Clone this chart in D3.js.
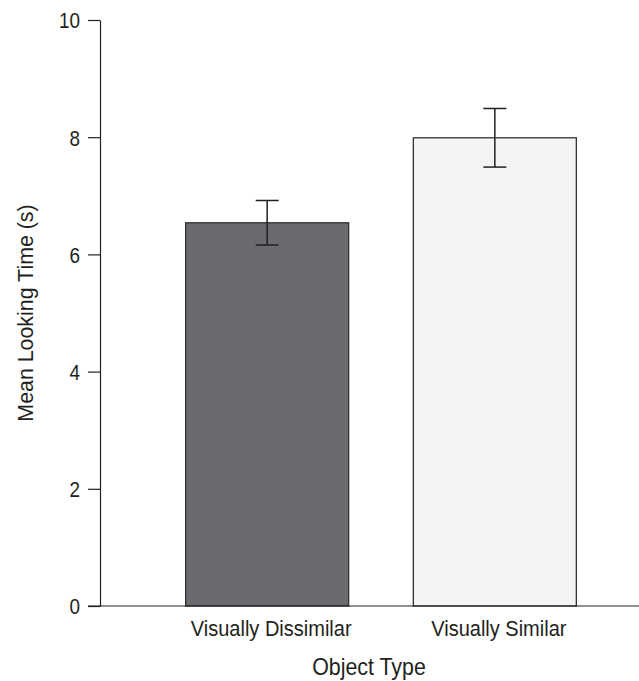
<!DOCTYPE html>
<html>
<head>
<meta charset="utf-8">
<script src="https://cdn.jsdelivr.net/npm/d3@7"></script>
<style>
  body { margin: 0; background: #fff; }
  text { font-family: "Liberation Sans", Arial, sans-serif; fill: #231f20; }
</style>
</head>
<body>
<div id="chart"></div>
<script>

// chart data

const categories = ["Visually Dissimilar", "Visually Similar"];
const means = [6.54, 7.99];
const errLow = [6.16, 7.49];
const errHigh = [6.92, 8.49];
const yTicks = [0, 2, 4, 6, 8, 10];

const width = 639;
const height = 681;

// the original type is a condensed grotesque, so squeeze the text a bit
const squeeze = 0.91;

const svg = d3.select("#chart")
  .append("svg")
  .attr("width", width)
  .attr("height", height);

const y = d3.scaleLinear()
  .domain([0, 10])
  .range([606, 20]);

const x = d3.scaleBand()
  .domain(categories)
  .range([121, 641])
  .padding(0.284);

const rows = categories.map((c, i) => ({ cat: c, mean: means[i], lo: errLow[i], hi: errHigh[i] }));

// y axis
const tickPad = 8;
const tickSqueeze = 0.84;
const yAxis = svg.append("g")
  .attr("transform", "translate(100,0)")
  .call(d3.axisLeft(y).tickValues(yTicks).tickSize(12).tickPadding(tickPad).tickSizeOuter(0));
yAxis.select(".domain").attr("stroke", "#231f20").attr("stroke-width", 1.2);
yAxis.selectAll(".tick line").attr("stroke", "#231f20").attr("stroke-width", 1.2);
yAxis.selectAll(".tick text")
  .attr("font-size", 22.5)
  .attr("font-family", null)
  .attr("dy", "0.35em")
  .attr("x", -(12 + tickPad) / tickSqueeze)
  .attr("transform", `scale(${tickSqueeze},1)`)
  .style("fill", "#231f20");

// bars
svg.append("g")
  .selectAll("rect")
  .data(rows)
  .join("rect")
  .attr("x", d => x(d.cat))
  .attr("y", d => y(d.mean))
  .attr("width", x.bandwidth())
  .attr("height", d => y(0) - y(d.mean))
  .attr("fill", (d, i) => i === 0 ? "#6a6b6f" : "#f4f4f4")
  .attr("stroke", "#333")
  .attr("stroke-width", 1.3);

// baseline
svg.append("line")
  .attr("x1", 88)
  .attr("x2", 639)
  .attr("y1", y(0))
  .attr("y2", y(0))
  .attr("stroke", "#231f20")
  .attr("stroke-width", 1.2);

// error bars
const err = svg.append("g")
  .attr("stroke", "#231f20")
  .attr("stroke-width", 1.5);

rows.forEach(d => {
  const cx = x(d.cat) + x.bandwidth() / 2;
  err.append("line")
    .attr("x1", cx).attr("x2", cx)
    .attr("y1", y(d.hi)).attr("y2", y(d.lo));
  [d.hi, d.lo].forEach(v => {
    err.append("line")
      .attr("x1", cx - 11.5).attr("x2", cx + 11.5)
      .attr("y1", y(v)).attr("y2", y(v));
  });
});

// category labels
svg.append("g")
  .selectAll("text")
  .data(categories)
  .join("text")
  .attr("transform", d => `translate(${x(d) + x.bandwidth() / 2 + 4},636) scale(${squeeze},1)`)
  .attr("text-anchor", "middle")
  .attr("font-size", 22)
  .text(d => d);

// axis titles
svg.append("text")
  .attr("transform", `translate(369,675) scale(${squeeze},1)`)
  .attr("text-anchor", "middle")
  .attr("font-size", 23.5)
  .text("Object Type");

svg.append("text")
  .attr("transform", `translate(33,313) rotate(-90) scale(0.95,1)`)
  .attr("text-anchor", "middle")
  .attr("font-size", 22.5)
  .text("Mean Looking Time (s)");

</script>
</body>
</html>
